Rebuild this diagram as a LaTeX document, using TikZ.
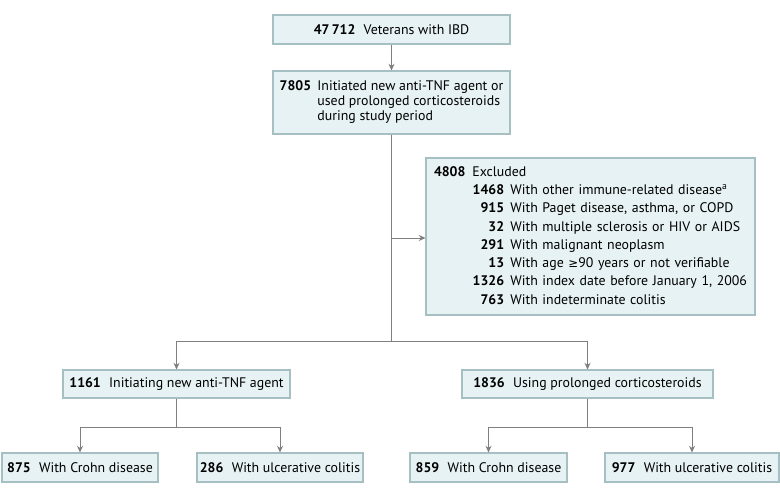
\documentclass[tikz,border=0pt]{standalone}
\usepackage{fontspec}
\setmainfont{PT Sans}
\newfontfamily\symfont[Scale=0.85]{DejaVu Sans}
\usetikzlibrary{arrows.meta}
\definecolor{boxfill}{HTML}{E7F2F4}
\definecolor{boxline}{HTML}{A5BFC3}
\definecolor{linegray}{HTML}{7F7F7F}
\tikzset{
  flowbox/.style={draw=boxline, fill=boxfill, line width=0.8pt, inner sep=0pt, font=\fontsize{10.4}{13.7}\selectfont},
  link/.style={draw=linegray, line width=0.6pt},
  arrow/.style={link, -{Stealth[length=5pt,width=4.5pt]}}
}
\begin{document}
\begin{tikzpicture}[x=0.75pt, y=-0.75pt]
    \useasboundingbox (0,0) rectangle (780,499);

    % top boxes
    \node[flowbox, minimum width=237*0.75pt, minimum height=29*0.75pt] (veterans) at (391.5,29.5)
        {\textbf{47\,712}\hspace{0.6em}Veterans with IBD};
    \node[flowbox, minimum width=237*0.75pt, minimum height=63*0.75pt,
          font=\fontsize{10.4}{11.3}\selectfont] (initiated) at (391.5,102.5)
        {\begin{tabular}{@{}l@{\hspace{0.45em}}l@{}}
          \textbf{7805} & Initiated new anti-TNF agent or\\
                        & used prolonged corticosteroids\\
                        & during study period
         \end{tabular}};

    % exclusions
    \node[flowbox, minimum width=329*0.75pt, minimum height=157*0.75pt,
          text width=313*0.75pt, align=left] (excluded) at (590.5,236.5)
        {\begin{tabular}{@{\hspace{29pt}}r@{\hspace{0.45em}}l@{}}
          \multicolumn{2}{@{}l@{}}{\textbf{4808}\hspace{0.5em}Excluded}\\
          \textbf{1468} & With other immune-related disease\textsuperscript{a}\\
          \textbf{915}  & With Paget disease, asthma, or COPD\\
          \textbf{32}   & With multiple sclerosis or HIV or AIDS\\
          \textbf{291}  & With malignant neoplasm\\
          \textbf{13}   & With age {\symfont ≥}90 years or not verifiable\\
          \textbf{1326} & With index date before January 1, 2006\\
          \textbf{763}  & With indeterminate colitis
         \end{tabular}};

    % treatment groups
    \node[flowbox, minimum width=227*0.75pt, minimum height=28*0.75pt] (antitnf) at (176.5,384)
        {\textbf{1161}\hspace{0.6em}Initiating new anti-TNF agent};
    \node[flowbox, minimum width=251*0.75pt, minimum height=28*0.75pt] (steroids) at (587.5,384)
        {\textbf{1836}\hspace{0.6em}Using prolonged corticosteroids};

    % diagnoses
    \node[flowbox, minimum width=156*0.75pt, minimum height=29*0.75pt] (crohnA) at (80,467.5)
        {\textbf{875}\hspace{0.6em}With Crohn disease};
    \node[flowbox, minimum width=166*0.75pt, minimum height=29*0.75pt] (ucA) at (280,467.5)
        {\textbf{286}\hspace{0.6em}With ulcerative colitis};
    \node[flowbox, minimum width=157*0.75pt, minimum height=29*0.75pt] (crohnB) at (488.5,467.5)
        {\textbf{859}\hspace{0.6em}With Crohn disease};
    \node[flowbox, minimum width=174*0.75pt, minimum height=29*0.75pt] (ucB) at (692,467.5)
        {\textbf{977}\hspace{0.6em}With ulcerative colitis};

    % split points
    \coordinate (split) at (391.5,341);
    \coordinate (exclsplit) at (391.5,238);
    \coordinate (splitA) at (176.5,427);
    \coordinate (splitB) at (587.5,427);

    % connectors
    \draw[arrow] (veterans) -- (initiated);
    \draw[link] (initiated) -- (split);
    \draw[arrow] (exclsplit) -- (exclsplit -| excluded.west);
    \draw[arrow] (split) -| (antitnf);
    \draw[arrow] (split) -| (steroids);
    \draw[link] (antitnf) -- (splitA);
    \draw[arrow] (splitA) -| (crohnA);
    \draw[arrow] (splitA) -| (ucA);
    \draw[link] (steroids) -- (splitB);
    \draw[arrow] (splitB) -| (crohnB);
    \draw[arrow] (splitB) -| (ucB);
\end{tikzpicture}
\end{document}
